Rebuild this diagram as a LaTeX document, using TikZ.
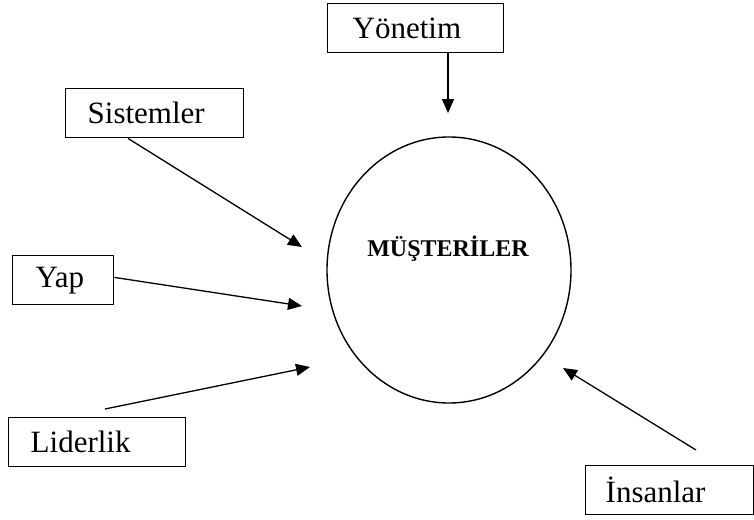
\documentclass[tikz,border=0pt]{standalone}
\usepackage{fontspec}
\setmainfont{Liberation Serif}
\usetikzlibrary{arrows.meta,shapes.geometric}
\begin{document}
\begin{tikzpicture}[x=1pt,y=-1pt,
  labelbox/.style={draw,line width=1.4pt,rectangle,anchor=north west,inner ysep=0pt,
    minimum height=49pt,align=left,font=\fontsize{31}{33}\selectfont},
  conn/.style={line width=1.3pt,-{Triangle[length=14pt,width=12pt]}}]
\useasboundingbox (0,0) rectangle (754,519);
\node[draw,line width=1.4pt,ellipse,minimum width=244pt,minimum height=266pt,inner sep=0pt] (mus) at (449,270) {};
\node[font=\bfseries\fontsize{24}{26}\selectfont] (mlab) at (448,249) {MÜŞTERİLER};
\node[labelbox,inner xsep=25pt,text width=126pt] (yon) at (327,3) {Yönetim};
\node[labelbox,inner xsep=22pt,text width=134pt] (sis) at (65,88) {Sistemler};
\node[labelbox,inner xsep=23pt,text width=55pt] (yap) at (12,255) {Yap};
\node[labelbox,inner xsep=22pt,text width=133pt] (lid) at (8,417) {Liderlik};
\node[labelbox,inner xsep=20pt,text width=128pt] (ins) at (585,465) {İnsanlar};
\coordinate (tY) at (448,113);
\coordinate (tS) at (302,247);
\coordinate (tA) at (302,306);
\coordinate (tL) at (310,367);
\coordinate (tI) at (563,368);
\coordinate (sL) at (105,409);
\coordinate (sI) at (696,450);
\draw[conn] (yon.south -| tY) -- (tY);
\draw[conn] ([xshift=63pt]sis.south west) -- (tS);
\draw[conn] ([yshift=28pt]yap.south east) -- (tA);
\draw[conn] (sL) -- (tL);
\draw[conn] (sI) -- (tI);
\end{tikzpicture}
\end{document}
